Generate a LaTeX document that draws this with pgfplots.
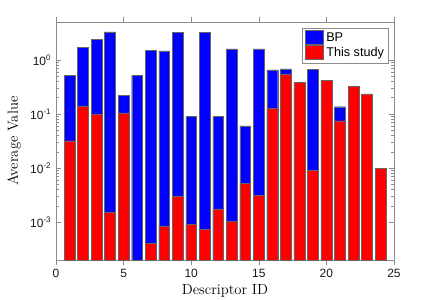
\documentclass[border=0pt]{standalone}
\usepackage{pgfplots}
\pgfplotsset{compat=1.18}
\usepackage{fontspec}
\newfontfamily\hv{Liberation Sans}
\begin{document}
\begin{tikzpicture}
\begin{axis}[
  scale only axis, width=253.5pt, height=178.5pt,
  ymode=log, log origin=infty,
  xmin=0, xmax=25, ymin=2e-4, ymax=5,
  xtick={0,5,10,15,20,25},
  xticklabels={0,5,10,15,20,25},
  ytick={1e-3,1e-2,1e-1,1},
  yticklabels={10\textsuperscript{-3},10\textsuperscript{-2},10\textsuperscript{-1},10\textsuperscript{0}},
  ticklabel style={font=\hv\fontsize{9}{10}\selectfont, text=black!90},
  axis line style={black!45, line width=0.4pt},
  tick style={black!45, line width=0.4pt},
  tick align=inside,
  major tick length=3.5pt, minor tick length=2pt,
  xlabel={Descriptor ID}, ylabel={Average Value},
  label style={font=\fontsize{11}{12}\selectfont},
  xlabel style={yshift=2pt},
  ybar, bar width=0.8, bar shift=0pt,
  legend style={at={(0.985,0.975)}, anchor=north east, draw=black!45, line width=0.4pt,
    font=\hv\fontsize{9.5}{10}\selectfont, inner sep=1.5pt, row sep=-1pt,
    legend cell align=left},
  legend image code/.code={\draw[#1] (0pt,-4.5pt) rectangle (14pt,6pt);},
]
\addplot[fill={rgb,1:red,0;green,0;blue,1}, draw=black!60, line width=0.3pt] coordinates {
 (1,0.52) (2,1.71) (3,2.41) (4,3.29) (5,0.22) (6,0.515) (7,1.51) (8,1.47)
 (9,3.24) (10,0.089) (11,3.2) (12,0.089) (13,1.6) (14,0.06) (15,1.6)
 (16,0.65) (17,0.68) (19,0.67) (21,0.136)
};
\addlegendentry{BP}
\addplot[fill={rgb,1:red,1;green,0;blue,0}, draw=black!60, line width=0.3pt] coordinates {
 (1,0.032) (2,0.138) (3,0.099) (4,0.00153) (5,0.105) (7,0.000403) (8,0.00084)
 (9,0.00297) (10,0.00093) (11,0.00074) (12,0.00176) (13,0.00103) (14,0.0052)
 (15,0.0031) (16,0.127) (17,0.54) (18,0.388) (19,0.0092) (20,0.42) (21,0.075)
 (22,0.327) (23,0.236) (24,0.01)
};
\addlegendentry{This study}
\end{axis}
\pgfresetboundingbox
\path (-42pt,-30pt) rectangle (285pt,195pt);
\end{tikzpicture}
\end{document}
